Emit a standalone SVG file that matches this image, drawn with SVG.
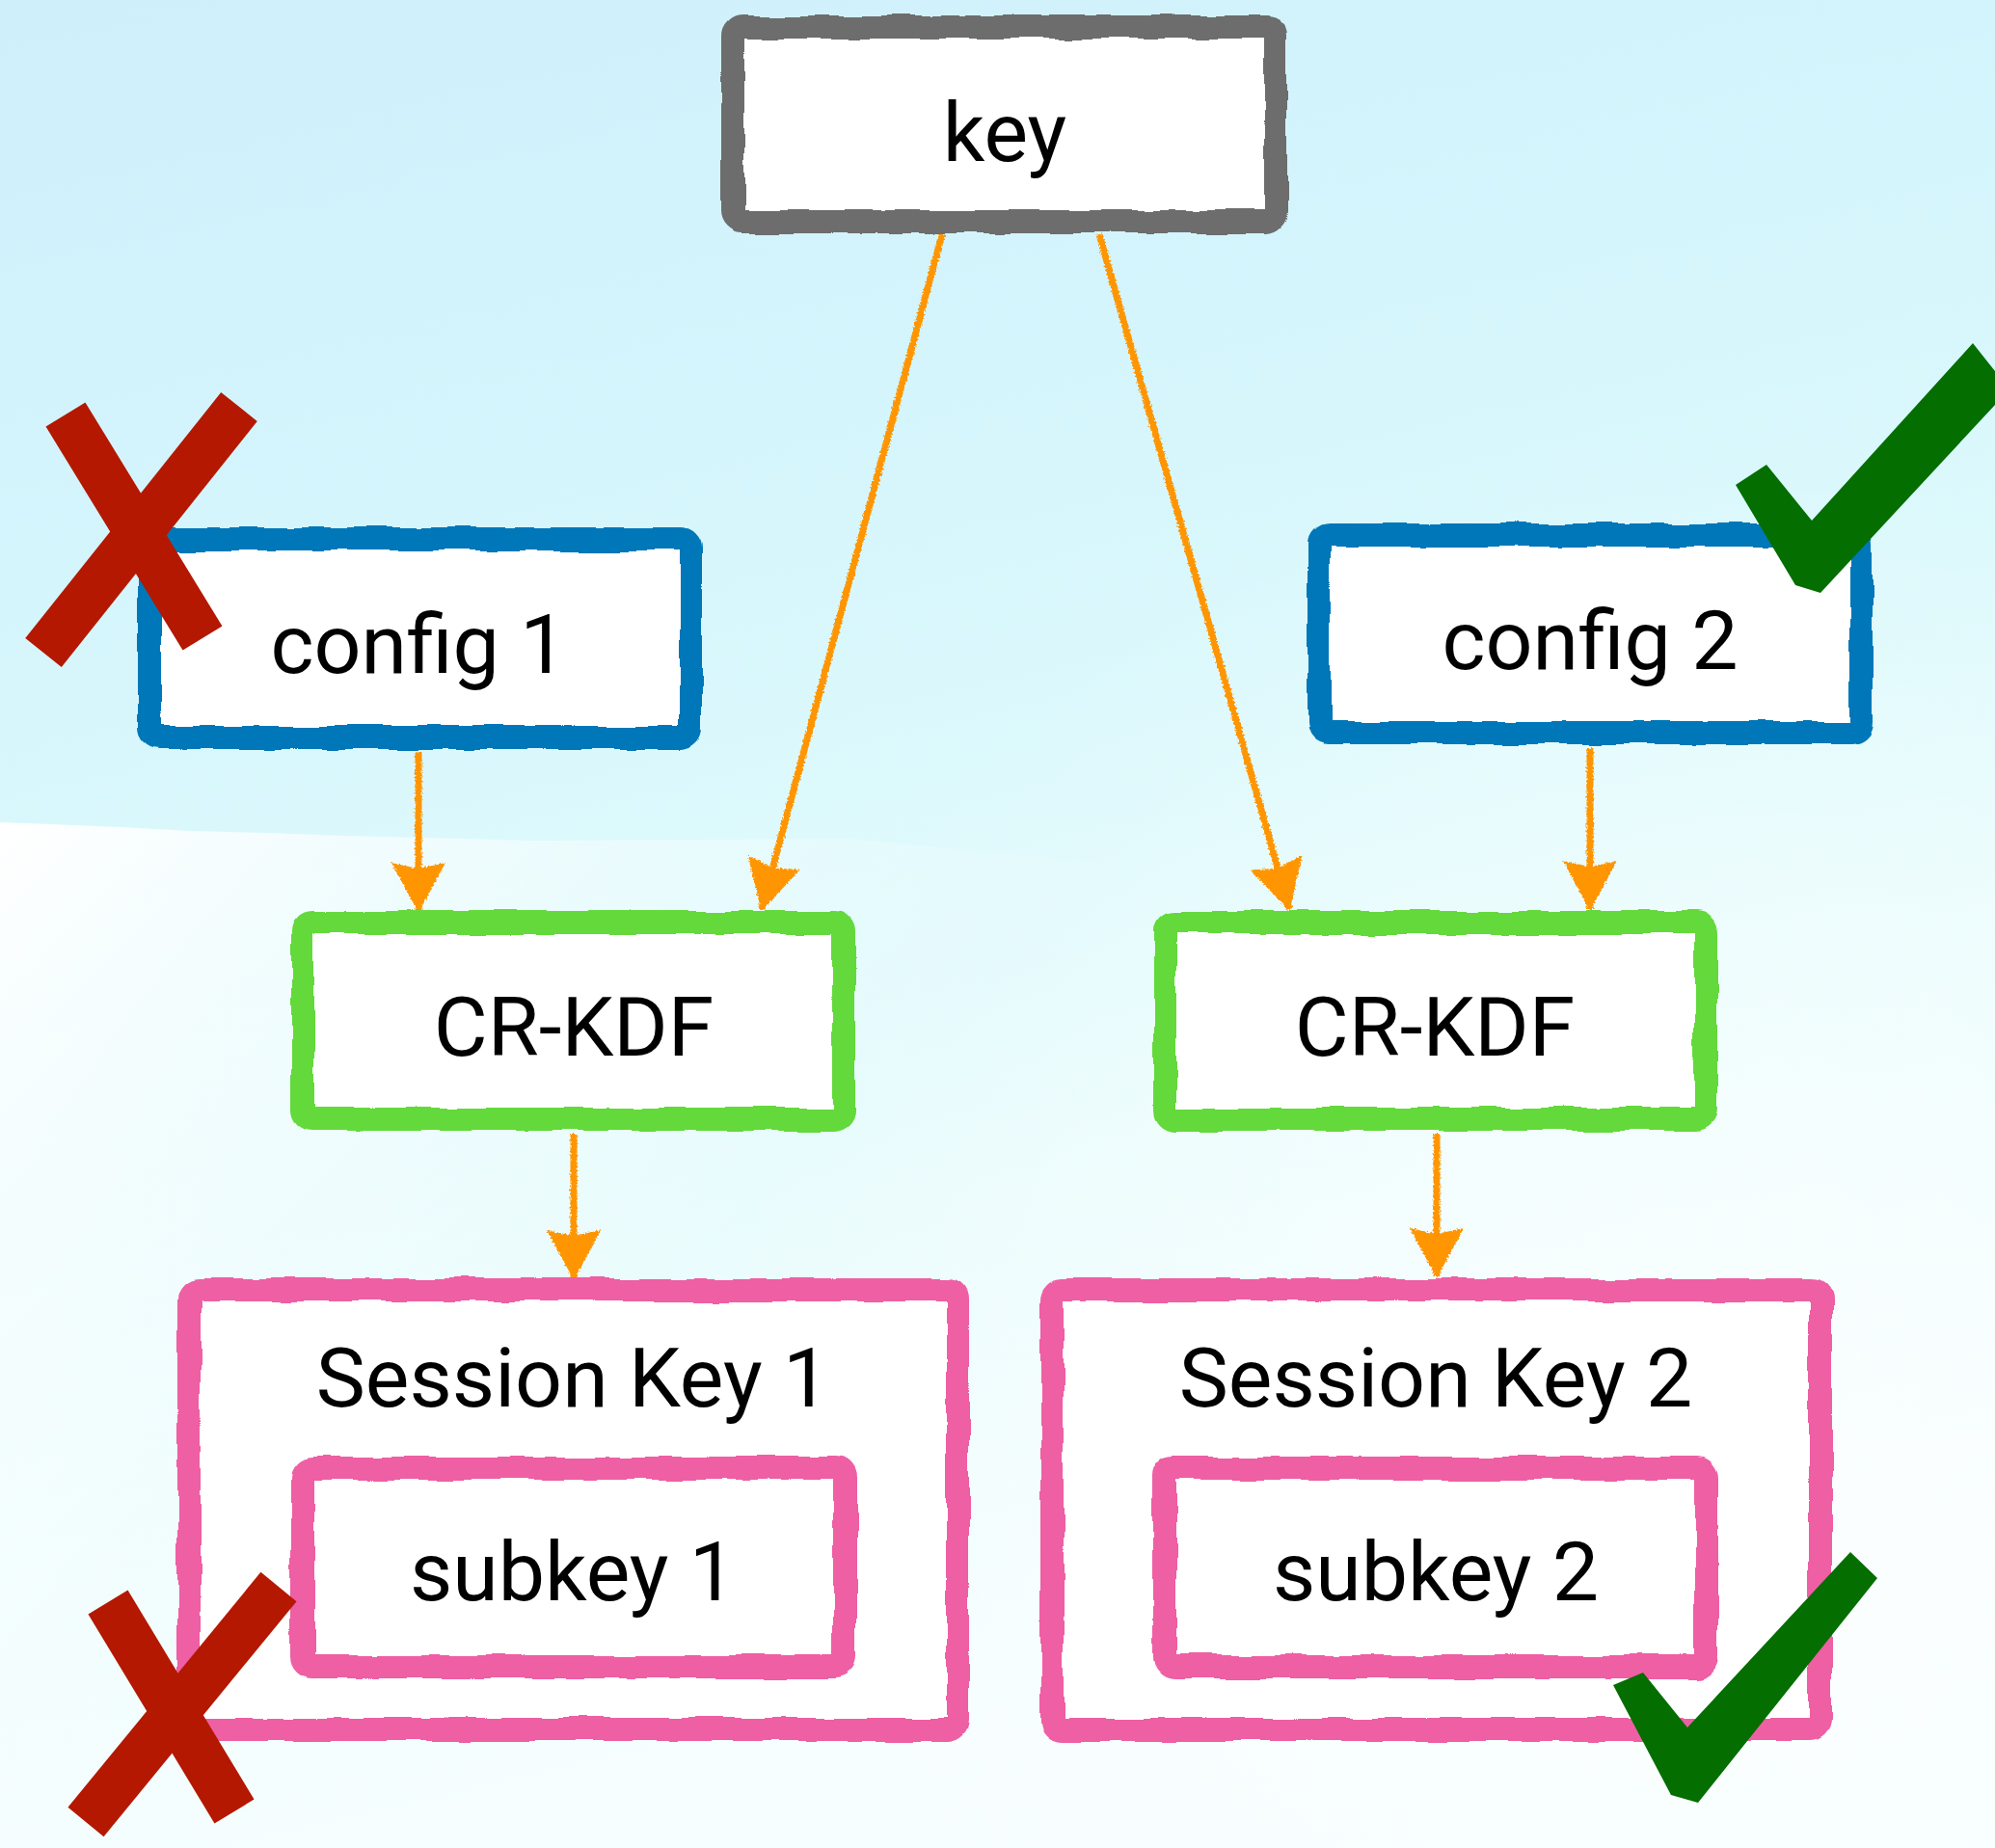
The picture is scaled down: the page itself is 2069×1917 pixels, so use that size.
<svg xmlns="http://www.w3.org/2000/svg" width="2069" height="1917" viewBox="0 0 2069 1917">
  <defs>
    <linearGradient id="bg" x1="0" y1="0" x2="0.25" y2="1">
      <stop offset="0" stop-color="#cff0fb"/>
      <stop offset="0.3" stop-color="#d4f5fc"/>
      <stop offset="0.5" stop-color="#dcf9fc"/>
      <stop offset="0.72" stop-color="#eafcfd"/>
      <stop offset="1" stop-color="#f7feff"/>
    </linearGradient>
    <linearGradient id="patch" x1="0" y1="0" x2="0.55" y2="0.5">
      <stop offset="0" stop-color="#ffffff" stop-opacity="1"/>
      <stop offset="0.35" stop-color="#ffffff" stop-opacity="0.6"/>
      <stop offset="1" stop-color="#ffffff" stop-opacity="0"/>
    </linearGradient>
    <radialGradient id="glow" cx="0.85" cy="0.75" r="0.5">
      <stop offset="0" stop-color="#ffffff" stop-opacity="0.55"/>
      <stop offset="1" stop-color="#ffffff" stop-opacity="0"/>
    </radialGradient>
    <filter id="rough" filterUnits="userSpaceOnUse" x="0" y="0" width="2069" height="1917">
      <feTurbulence type="fractalNoise" baseFrequency="0.022" numOctaves="2" seed="4" result="n"/>
      <feDisplacementMap in="SourceGraphic" in2="n" scale="9" xChannelSelector="R" yChannelSelector="G"/>
    </filter>
    <filter id="crayon" filterUnits="userSpaceOnUse" x="0" y="0" width="2069" height="1917">
      <feTurbulence type="fractalNoise" baseFrequency="0.5" numOctaves="2" seed="7" result="n"/>
      <feDisplacementMap in="SourceGraphic" in2="n" scale="5" xChannelSelector="R" yChannelSelector="G"/>
    </filter>
    <marker id="head" viewBox="0 0 52 60" markerWidth="52" markerHeight="60" refX="50" refY="30" orient="auto" markerUnits="userSpaceOnUse">
      <path d="M0,2 L52,30 L0,58 L6,30 Z" fill="#ff9500"/>
    </marker>
    <style>
      .box { fill: #ffffff; stroke-width: 24; filter: url(#rough); }
      .grey { stroke: #6d6d6d; }
      .blue { stroke: #0077b8; }
      .green { stroke: #63d93a; }
      .pink { stroke: #ee5fa4; }
      .lbl { font-family: Roboto, "Liberation Sans", sans-serif; font-size: 86px; font-weight: 400; fill: #000000; text-anchor: middle; }
      .conn { stroke: #ff9500; stroke-width: 7; fill: none; marker-end: url(#head); }
      .cross { stroke: #b41800; stroke-width: 48; stroke-linecap: butt; fill: none; }
      .tick { fill: #046e00; }
    </style>
  </defs>

  <!-- background -->
  <rect x="0" y="0" width="2069" height="1917" fill="url(#bg)"/>
  <rect x="0" y="0" width="2069" height="1917" fill="url(#glow)"/>
  <polygon points="0,853 53,855 125,858 198,862 277,864 356,867 442,869 554,872 878,870 1200,900 1200,1917 0,1917" fill="url(#patch)"/>

  <!-- connectors -->
  <g id="connectors" filter="url(#crayon)">
    <line class="conn" x1="434" y1="780" x2="434" y2="945"/>
    <line class="conn" x1="977" y1="243" x2="790" y2="943"/>
    <line class="conn" x1="1140" y1="243" x2="1337" y2="943"/>
    <line class="conn" x1="1649" y1="776" x2="1649" y2="943"/>
    <line class="conn" x1="595" y1="1176" x2="595" y2="1326"/>
    <line class="conn" x1="1490" y1="1176" x2="1490" y2="1324"/>
  </g>

  <!-- nodes -->
  <g id="node-key">
    <rect class="box grey" x="760" y="28" width="563" height="202" rx="10"/>
    <text class="lbl" x="1042" y="167">key</text>
  </g>
  <g id="node-config1">
    <rect class="box blue" x="155" y="559" width="561" height="206" rx="10"/>
    <text class="lbl" x="434" y="698">config 1</text>
  </g>
  <g id="node-config2">
    <rect class="box blue" x="1368" y="555" width="562" height="205" rx="10"/>
    <text class="lbl" x="1649" y="694">config 2</text>
  </g>
  <g id="node-crkdf1">
    <rect class="box green" x="314" y="957" width="561" height="204" rx="10"/>
    <text class="lbl" x="595" y="1095">CR-KDF</text>
  </g>
  <g id="node-crkdf2">
    <rect class="box green" x="1208" y="957" width="561" height="204" rx="10"/>
    <text class="lbl" x="1488" y="1095">CR-KDF</text>
  </g>
  <g id="node-session1">
    <rect class="box pink" x="196" y="1338" width="797" height="456" rx="10"/>
    <text class="lbl" x="594" y="1459">Session Key 1</text>
  </g>
  <g id="node-subkey1">
    <rect class="box pink" x="314" y="1523" width="562" height="206" rx="10"/>
    <text class="lbl" x="594" y="1660">subkey 1</text>
  </g>
  <g id="node-session2">
    <rect class="box pink" x="1091" y="1338" width="797" height="456" rx="10"/>
    <text class="lbl" x="1489" y="1459">Session Key 2</text>
  </g>
  <g id="node-subkey2">
    <rect class="box pink" x="1208" y="1523" width="562" height="206" rx="10"/>
    <text class="lbl" x="1489" y="1660">subkey 2</text>
  </g>

  <!-- marks -->
  <g id="mark-x1">
    <line class="cross" x1="68" y1="430" x2="210" y2="662"/>
    <line class="cross" x1="248" y1="422" x2="45" y2="677"/>
  </g>
  <g id="mark-x2">
    <line class="cross" x1="112" y1="1662" x2="243" y2="1879"/>
    <line class="cross" x1="289" y1="1646" x2="89" y2="1890"/>
  </g>
  <g id="mark-check1">
    <polygon class="tick" points="1800,503 1832,482 1879,540 2046,356 2069,385 2069,420 1888,615 1862,607"/>
  </g>
  <g id="mark-check2">
    <polygon class="tick" points="1673,1748 1704,1735 1750,1792 1919,1610 1947,1637 1761,1870 1733,1862"/>
  </g>
</svg>
